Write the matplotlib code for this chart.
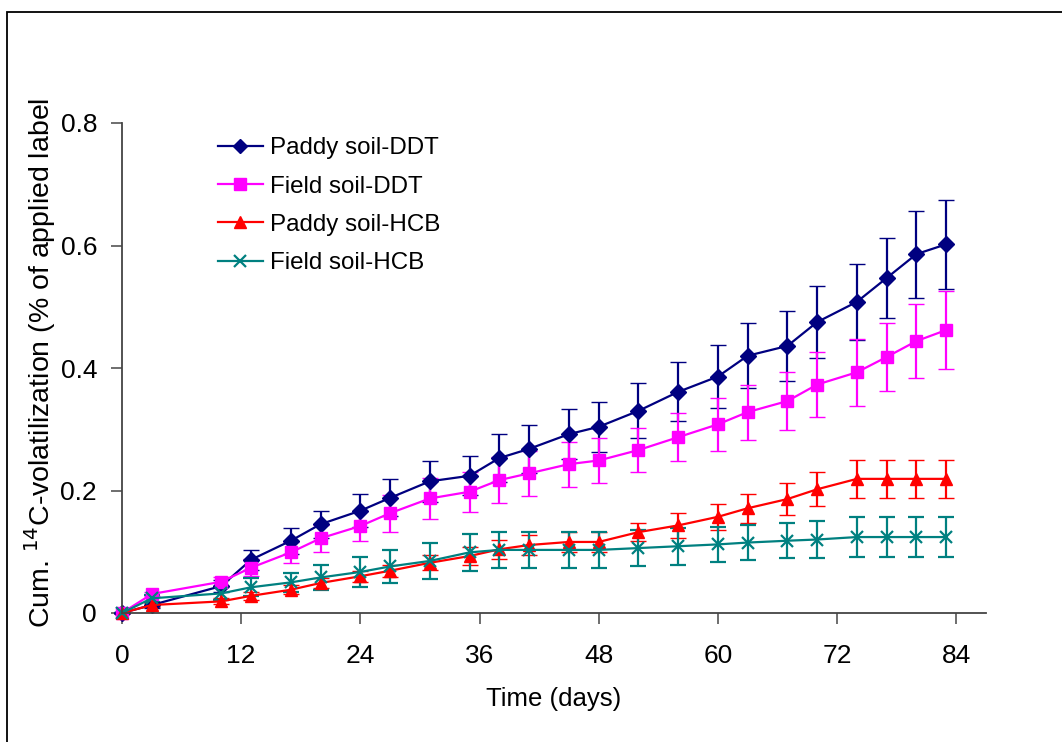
import numpy as np
import matplotlib
matplotlib.use("Agg")
from matplotlib import pyplot as plt
from matplotlib.patches import Rectangle
from matplotlib.lines import Line2D

plt.rcParams['font.family'] = ['Liberation Sans', 'DejaVu Sans']

# sampling days
days = [0, 3, 10, 13, 17, 20, 24, 27, 31, 35, 38, 41, 45, 48, 52, 56, 60, 63, 67, 70, 74, 77, 80, 83]

paddy_ddt = [0, 0.013, 0.044, 0.087, 0.118, 0.145, 0.167, 0.188, 0.215, 0.224, 0.253, 0.268,
             0.292, 0.304, 0.330, 0.361, 0.386, 0.420, 0.436, 0.475, 0.508, 0.547, 0.586, 0.602]
paddy_ddt_err = [0, 0.005, 0.010, 0.016, 0.021, 0.022, 0.027, 0.030, 0.033, 0.032, 0.039, 0.039,
                 0.041, 0.041, 0.045, 0.048, 0.052, 0.053, 0.057, 0.059, 0.062, 0.066, 0.071, 0.073]

field_ddt = [0, 0.031, 0.051, 0.074, 0.099, 0.122, 0.142, 0.163, 0.187, 0.198, 0.217, 0.228,
             0.243, 0.249, 0.266, 0.287, 0.308, 0.328, 0.346, 0.373, 0.393, 0.418, 0.444, 0.462]
field_ddt_err = [0, 0.004, 0.008, 0.014, 0.017, 0.022, 0.024, 0.030, 0.033, 0.033, 0.037, 0.037,
                 0.037, 0.037, 0.036, 0.039, 0.043, 0.045, 0.047, 0.053, 0.055, 0.056, 0.060, 0.064]

paddy_hcb = [0, 0.013, 0.019, 0.028, 0.038, 0.049, 0.060, 0.069, 0.082, 0.093, 0.104, 0.111,
             0.116, 0.116, 0.132, 0.143, 0.157, 0.171, 0.186, 0.202, 0.219, 0.219, 0.219, 0.219]
paddy_hcb_err = [0, 0.004, 0.005, 0.006, 0.007, 0.008, 0.009, 0.010, 0.012, 0.014, 0.016, 0.017,
                 0.016, 0.016, 0.015, 0.020, 0.021, 0.024, 0.026, 0.028, 0.031, 0.031, 0.031, 0.031]

field_hcb = [0, 0.024, 0.032, 0.042, 0.050, 0.058, 0.067, 0.076, 0.085, 0.099, 0.103, 0.103,
             0.103, 0.103, 0.106, 0.109, 0.112, 0.115, 0.118, 0.120, 0.124, 0.124, 0.124, 0.124]
field_hcb_err = [0, 0.006, 0.010, 0.015, 0.016, 0.020, 0.024, 0.027, 0.030, 0.030, 0.030, 0.030,
                 0.030, 0.030, 0.030, 0.030, 0.028, 0.029, 0.029, 0.030, 0.032, 0.032, 0.032, 0.032]

series = [
    ("Paddy soil-DDT", paddy_ddt, paddy_ddt_err, "#000080", "D", 8),
    ("Field soil-DDT", field_ddt, field_ddt_err, "#FF00FF", "s", 8.5),
    ("Paddy soil-HCB", paddy_hcb, paddy_hcb_err, "#FF0000", "^", 9),
    ("Field soil-HCB", field_hcb, field_hcb_err, "#008080", "x", 9),
]

fig = plt.figure(figsize=(10.62, 7.42), dpi=100)
ax = fig.add_axes([122 / 1062, 1 - 613 / 742, (986 - 122) / 1062, (613 - 123) / 742])

handles = []
for name, vals, err, col, mk, ms in series:
    mew = 1.6 if mk == "x" else 1.0
    ax.errorbar(days, vals, yerr=err, color=col, marker=mk, markersize=ms,
                markeredgewidth=mew, linewidth=1.6,
                elinewidth=1.6, capsize=6, capthick=1.6, clip_on=False)
    handles.append(Line2D([], [], color=col, marker=mk, markersize=ms * 0.95,
                          markeredgewidth=mew, linewidth=1.6, label=name))

ax.set_xlim(0, 87)
ax.set_ylim(0, 0.8)
ax.set_xticks(np.arange(0, 85, 12))
ax.set_yticks([0, 0.2, 0.4, 0.6, 0.8])
ax.set_yticklabels(["0", "0.2", "0.4", "0.6", "0.8"])
ax.tick_params(direction='out', length=8, width=1.2, labelsize=19, color="#555555")
ax.tick_params(axis='x', pad=14)
ax.tick_params(axis='y', pad=10)
ax.spines['top'].set_visible(False)
ax.spines['right'].set_visible(False)
for s in ('left', 'bottom'):
    ax.spines[s].set_color("#444444")
    ax.spines[s].set_linewidth(1.3)

ax.set_xlabel("Time (days)", fontsize=18.5, labelpad=14)
fig.text(40 / 1062, 1 - 363 / 742, "Cum. $^{14}$C-volatilization (% of applied label",
         rotation=90, fontsize=20.5, ha='center', va='center')

ax.legend(handles=handles, loc='upper left', bbox_to_anchor=(206 / 1062, 1 - 125 / 742),
          bbox_transform=fig.transFigure, frameon=False, fontsize=17.4,
          handlelength=1.85, handletextpad=0.3, labelspacing=0.68, borderpad=0)

# outer chart frame
fig.patches.append(Rectangle((7 / 1062, -0.1), 1.2, 1.1 - 12 / 742, transform=fig.transFigure,
                             fill=False, edgecolor="black", linewidth=1.3))

fig.savefig("out.png", dpi=100)
